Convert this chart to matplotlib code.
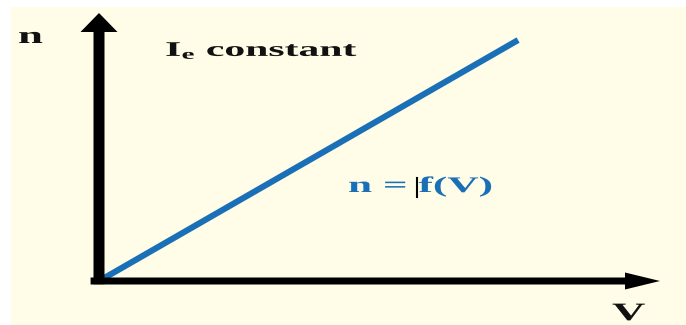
import matplotlib
matplotlib.use("Agg")
import matplotlib.pyplot as plt
from matplotlib.patches import Rectangle, FancyArrowPatch
from matplotlib.lines import Line2D
from matplotlib.patheffects import AbstractPathEffect
from matplotlib.transforms import Affine2D

# data: n = f(V), straight line through origin
volts = [0.0, 7.47]
speed = [0.0, 8.99]
x_label = "V"
y_label = "n"
note = r"I$_{\rm e}$ constant"
curve_label = "n = f(V)"

W, H = 686, 325
cream = "#FFFDE8"
blue = "#1A70B6"
ink = "#111111"

plt.rcParams["mathtext.fontset"] = "custom"
plt.rcParams["mathtext.rm"] = "Liberation Serif:bold"
plt.rcParams["mathtext.it"] = "Liberation Serif:bold"
plt.rcParams["mathtext.bf"] = "Liberation Serif:bold"


# the source picture is stretched sideways, so widen the glyphs too
class Stretch(AbstractPathEffect):
    def __init__(self, sx):
        super().__init__()
        self.sx = sx

    def draw_path(self, renderer, gc, tpath, affine, rgbFace=None):
        renderer.draw_path(gc, tpath, Affine2D().scale(self.sx, 1) + affine, rgbFace)


def fx(x):
    return x / W


def fy(y):
    return 1 - y / H


fig = plt.figure(figsize=(W / 100, H / 100), dpi=100)
fig.patch.set_facecolor("white")
fig.add_artist(Rectangle((fx(11), 0), 1, fy(7), transform=fig.transFigure,
                         facecolor=cream, edgecolor="none", zorder=0))

# axes box: origin at (99, 281) px, arrow tips at x=660 and y=13
left, right, top, bottom = 99, 660, 13, 281
ax = fig.add_axes([fx(left), fy(bottom), (right - left) / W, (bottom - top) / H])
ax.set_xlim(0, 10)
ax.set_ylim(0, 10)
ax.axis("off")

ax.plot(volts, speed, color=blue, lw=4.4, solid_capstyle="butt", clip_on=False, zorder=2)

px = 72 / 100  # mutation scale so that arrow sizes are in pixels
y_arrow = FancyArrowPatch((0, -0.012), (0, 1), transform=ax.transAxes,
                          arrowstyle="simple,tail_width=11,head_width=37,head_length=19",
                          mutation_scale=px, shrinkA=0, shrinkB=0,
                          facecolor="black", edgecolor="none", clip_on=False, zorder=3)
x_arrow = FancyArrowPatch((-0.015, 0), (1, 0), transform=ax.transAxes,
                          arrowstyle="simple,tail_width=7,head_width=17,head_length=35",
                          mutation_scale=px, shrinkA=0, shrinkB=0,
                          facecolor="black", edgecolor="none", clip_on=False, zorder=3)
ax.add_patch(y_arrow)
ax.add_patch(x_arrow)

serif = "Liberation Serif"
fig.text(fx(18), fy(43), y_label, family=serif, weight="bold", size=17, color=ink,
         ha="left", va="baseline", path_effects=[Stretch(1.9)])
fig.text(fx(165), fy(56), note, family=serif, weight="bold", size=15, color=ink,
         ha="left", va="baseline", path_effects=[Stretch(2.0)])
fig.text(fx(348), fy(192), curve_label, family=serif, weight="bold", size=16, color=blue,
         ha="left", va="baseline", path_effects=[Stretch(1.95)])
# text cursor mark left in the source image
fig.add_artist(Line2D([fx(417), fx(417)], [fy(178), fy(197)], color="black", lw=1.5,
                      transform=fig.transFigure, zorder=5))
fig.text(fx(612), fy(320), x_label, family=serif, weight="bold", size=18, color=ink,
         ha="left", va="baseline", path_effects=[Stretch(1.85)])

fig.savefig("out.png", dpi=100)
